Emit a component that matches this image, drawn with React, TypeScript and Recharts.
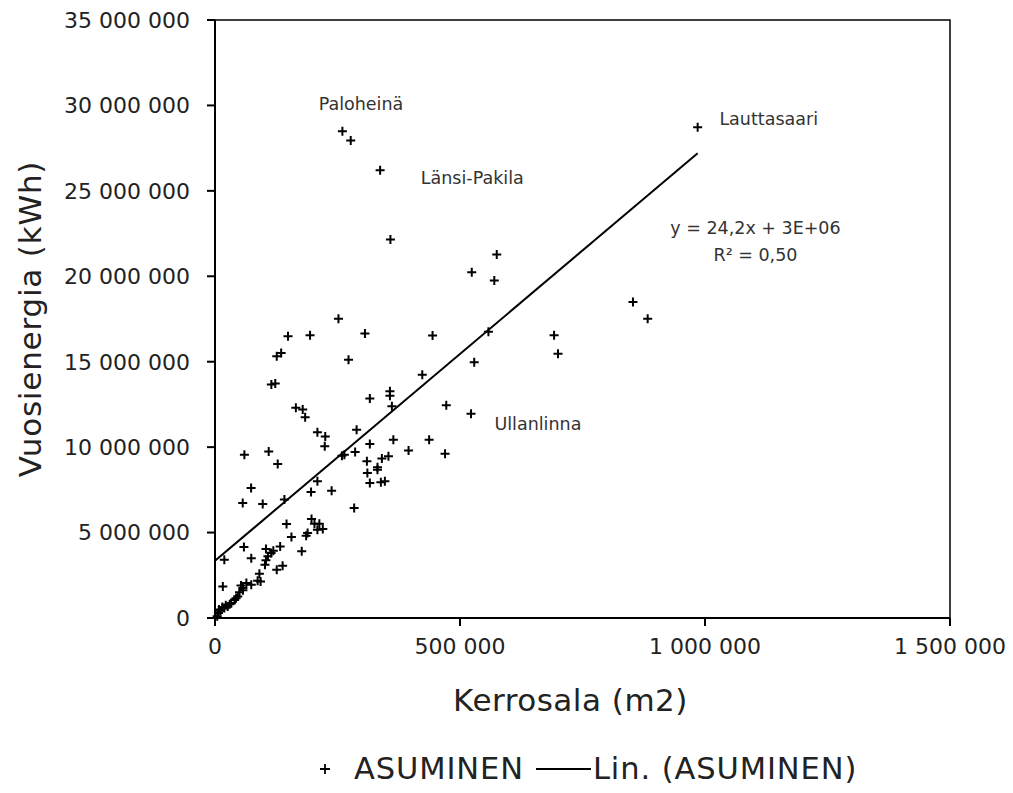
import React from 'react';
import { ScatterChart, Scatter, XAxis, YAxis, ReferenceArea, Legend } from 'recharts';

// Kerrosala (m2) per area
const floorArea: number[] = [
  260000, 277000, 337000, 358000, 575000, 524000, 570000, 252000, 149000, 194000,
  306000, 444000, 558000, 985000, 853000, 883000, 692000, 700000, 126000, 135000,
  272500, 529000, 423000, 115000, 123000, 357000, 357000, 316000, 361000, 472000,
  522500, 165000, 179000, 184000, 289000, 209000, 225000, 224000, 316000, 364000,
  437000, 395000, 469500, 286000, 264000, 259000, 60000, 109600, 128000, 310000,
  311000, 331600, 331600, 340600, 354000, 316000, 338500, 346700, 73700, 56600,
  97400, 141600, 209000, 196000, 238000, 284000, 146000, 197000, 203000, 213000,
  220000, 209000, 189000, 186000, 156000, 177000, 59000, 74000, 104000, 119000,
  108000, 104000, 102000, 133000, 138000, 126000, 19000, 16000, 90600, 87000,
  74000, 64000, 57000, 50000, 46500, 43000, 33000, 26000, 19000, 11000,
  7000, 4500, 93000, 53000, 57000, 40000, 15000, 8000, 30000, 22000,
  114500,
];

// Vuosienergia (kWh) per area
const annualEnergy: number[] = [
  28490000, 27950000, 26200000, 22150000, 21270000, 20230000, 19750000, 17520000, 16490000, 16550000,
  16650000, 16530000, 16750000, 28720000, 18500000, 17520000, 16550000, 15470000, 15320000, 15510000,
  15120000, 14970000, 14240000, 13660000, 13720000, 13270000, 13010000, 12840000, 12390000, 12450000,
  11960000, 12300000, 12200000, 11750000, 11020000, 10870000, 10630000, 10050000, 10190000, 10440000,
  10440000, 9800000, 9620000, 9720000, 9560000, 9500000, 9560000, 9750000, 9020000, 9170000,
  8490000, 8680000, 8820000, 9330000, 9460000, 7900000, 7940000, 8000000, 7610000, 6730000,
  6670000, 6930000, 8000000, 7380000, 7450000, 6440000, 5500000, 5800000, 5520000, 5520000,
  5210000, 5170000, 4980000, 4820000, 4740000, 3900000, 4160000, 3490000, 4040000, 3940000,
  3610000, 3380000, 3120000, 4190000, 3060000, 2830000, 3410000, 1850000, 2590000, 2180000,
  1950000, 2050000, 1760000, 1500000, 1260000, 1150000, 880000, 680000, 590000, 430000,
  290000, 100000, 2140000, 1900000, 1620000, 1050000, 650000, 500000, 800000, 750000,
  3800000,
];

// Linear trend line end points (Lin. (ASUMINEN))
const trendX: number[] = [0, 985000];
const trendY: number[] = [3350000, 27200000];

// Text annotations
const noteText: string[] = ['Paloheinä', 'Länsi-Pakila', 'Lauttasaari', 'Ullanlinna', 'y = 24,2x + 3E+06', 'R² = 0,50'];
const noteX: number[] = [298000, 525000, 1130000, 659000, 1103000, 1103000];
const noteY: number[] = [30110000, 25770000, 29190000, 11370000, 22840000, 21250000];

const xTicks: number[] = [0, 500000, 1000000, 1500000];
const yTicks: number[] = [0, 5000000, 10000000, 15000000, 20000000, 25000000, 30000000, 35000000];

const points = floorArea.map((x, i) => ({ x, y: annualEnergy[i] }));
const trend = trendX.map((x, i) => ({ x, y: trendY[i] }));
const notes = noteText.map((t, i) => ({ x: noteX[i], y: noteY[i], t }));

const fmt = (n: number) => String(n).replace(/\B(?=(\d{3})+(?!\d))/g, ' ');

const FONT = '"DejaVu Sans", sans-serif';

const PlusShape = (props: any) => {
  const { cx, cy } = props;
  if (cx == null || cy == null) return <g />;
  const h = 4.5;
  return (
    <path
      d={`M${cx - h},${cy}H${cx + h}M${cx},${cy - h}V${cy + h}`}
      stroke="#000"
      strokeWidth={2}
      fill="none"
    />
  );
};

const NoteShape = (props: any) => {
  const { cx, cy, payload } = props;
  if (cx == null || cy == null) return <g />;
  return (
    <text x={cx} y={cy} textAnchor="middle" dominantBaseline="central" fontFamily={FONT} fontSize={17.5} fill="#333">
      {payload.t}
    </text>
  );
};

const Empty = () => <g />;

const LegendContent = () => (
  <div
    style={{
      display: 'flex',
      justifyContent: 'flex-start',
      alignItems: 'center',
      paddingTop: 33,
      paddingLeft: 318,
      fontFamily: FONT,
      fontSize: 30.5,
      letterSpacing: 0.9,
      color: '#222',
      whiteSpace: 'nowrap',
    }}
  >
    <svg width={14} height={14} style={{ marginRight: 22 }}>
      <path d="M2,7H12M7,2V12" stroke="#000" strokeWidth={1.8} />
    </svg>
    <span>ASUMINEN</span>
    <span style={{ display: 'inline-block', width: 55, borderTop: '2px solid #000', marginLeft: 12, marginRight: 2 }} />
    <span>Lin. (ASUMINEN)</span>
  </div>
);

export default function App() {
  return (
    <div style={{ position: 'absolute', left: 0, top: 0, width: 1013, height: 793, background: '#fff' }}>
      <ScatterChart width={1013} height={793} margin={{ top: 20, right: 63, left: 0, bottom: 5 }}>
        <ReferenceArea
          x1={0}
          x2={1500000}
          y1={0}
          y2={35000000}
          fill="none"
          stroke="#000"
          strokeWidth={1.5}
          ifOverflow="visible"
        />
        <XAxis
          type="number"
          dataKey="x"
          domain={[0, 1500000]}
          ticks={xTicks}
          tickFormatter={fmt}
          height={100}
          axisLine={{ stroke: '#000', strokeWidth: 2 }}
          tickLine={{ stroke: '#000', strokeWidth: 2 }}
          tickSize={8}
          tickMargin={12}
          tick={{ fill: '#222', fontSize: 22, fontFamily: FONT }}
          label={(p: any) => {
            const vb = p.viewBox || {};
            return (
              <text x={vb.x + vb.width / 2 - 12} y={vb.y + 82} textAnchor="middle" dominantBaseline="central" fontFamily={FONT} fontSize={31} letterSpacing={0.5} fill="#222">
                Kerrosala (m2)
              </text>
            );
          }}
        />
        <YAxis
          type="number"
          dataKey="y"
          domain={[0, 35000000]}
          ticks={yTicks}
          tickFormatter={fmt}
          width={215}
          axisLine={{ stroke: '#000', strokeWidth: 2 }}
          tickLine={{ stroke: '#000', strokeWidth: 2 }}
          tickSize={8}
          tickMargin={17}
          tick={{ fill: '#222', fontSize: 22, fontFamily: FONT }}
          label={(p: any) => {
            const vb = p.viewBox || {};
            const cy = vb.y + vb.height / 2;
            return (
              <text x={30} y={cy} textAnchor="middle" dominantBaseline="central" transform={`rotate(-90 30 ${cy})`} fontFamily={FONT} fontSize={31} letterSpacing={0.8} fill="#222">
                Vuosienergia (kWh)
              </text>
            );
          }}
        />
        <Scatter name="ASUMINEN" data={points} shape={PlusShape} isAnimationActive={false} />
        <Scatter name="Lin. (ASUMINEN)" data={trend} line={{ stroke: '#000', strokeWidth: 2 }} shape={Empty} isAnimationActive={false} />
        <Scatter name="notes" data={notes} shape={NoteShape} isAnimationActive={false} legendType="none" />
        <Legend verticalAlign="bottom" height={70} content={LegendContent} />
      </ScatterChart>
    </div>
  );
}
